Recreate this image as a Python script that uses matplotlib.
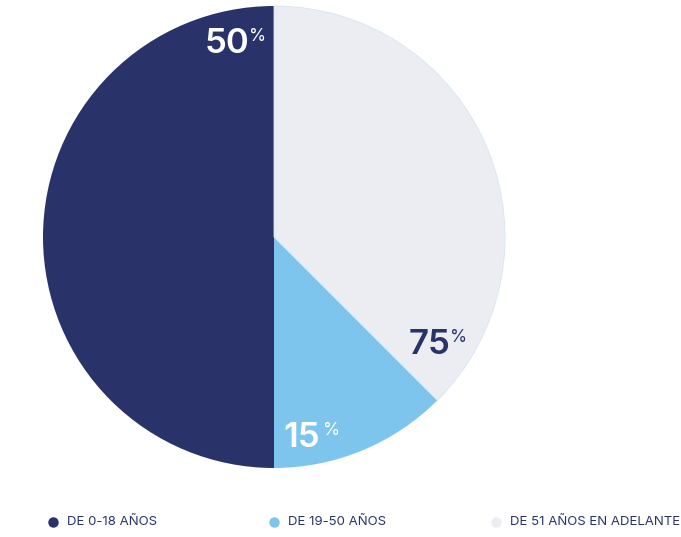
import matplotlib.pyplot as plt
from matplotlib.lines import Line2D

plt.rcParams['font.family'] = ['Inter', 'DejaVu Sans']

# age groups and their share of the circle
groups = ["DE 0-18 AÑOS", "DE 19-50 AÑOS", "DE 51 AÑOS EN ADELANTE"]
shares = [50, 12.5, 37.5]
label_texts = ["50", "15", "75"]

colours = ["#29336a", "#7dc5ed", "#ecedf3"]
text_colours = ["white", "white", "#29336a"]
# right edge / vertical centre of each number (axes fraction)
label_pos = [(0.446, 0.918), (0.600, 0.064), (0.881, 0.266)]
pct_gap = [0.0, 0.006, 0.0]

W, H = 681, 537
fig = plt.figure(figsize=(W / 100, H / 100), dpi=100)
ax = fig.add_axes([43 / W, 69 / H, 462 / W, 462 / H])

wedges, _ = ax.pie(shares, colors=colours, startangle=90, counterclock=True,
                   radius=1.0, wedgeprops={'linewidth': 0})
wedges[2].set_edgecolor("#d5e6f4")
wedges[2].set_linewidth(0.6)
ax.set_xlim(-1.0, 1.0)
ax.set_ylim(-1.0, 1.0)
ax.set_aspect('equal')
ax.axis('off')

for txt, (x, y), gap, c in zip(label_texts, label_pos, pct_gap, text_colours):
    ax.text(x, y, txt, transform=ax.transAxes, ha='right', va='center',
            fontsize=25, fontweight='semibold', color=c)
    ax.text(x + gap, y + 0.017, "%", transform=ax.transAxes, ha='left',
            va='center', fontsize=12.5, color=c)

# legend row along the bottom
legend_x = [53, 274, 496]
legend_y = 522
for name, col, x in zip(groups, colours, legend_x):
    fig.add_artist(Line2D([x / W], [1 - legend_y / H], transform=fig.transFigure,
                          marker='o', markersize=6.5, color=col, linestyle='none'))
    fig.text((x + 14) / W, 1 - legend_y / H, name, ha='left', va='center',
             fontsize=9.5, color="#29336a")

fig.savefig("out.png", dpi=100, facecolor="white")
